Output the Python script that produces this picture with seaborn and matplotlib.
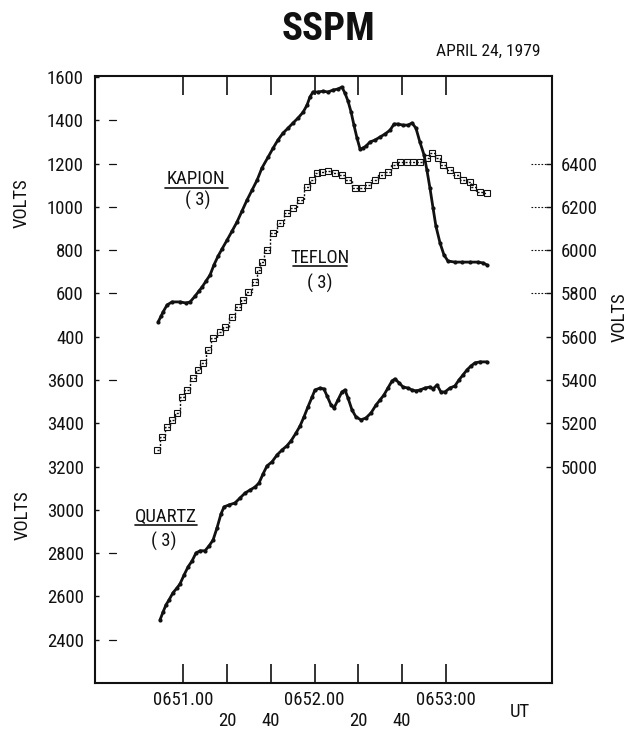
import matplotlib
matplotlib.use("Agg")
import matplotlib.pyplot as plt
from matplotlib import font_manager
from matplotlib.lines import Line2D
import seaborn as sns

# time in seconds after 06:51:00 UT, voltages
kapion_t = [-11.4, -10.0, -9.1, -7.3, -5.0, -1.4, 1.4, 3.2, 5.5, 7.3, 8.7, 10.5, 12.3, 14.1, 16.0,
            17.8, 20.1, 22.4, 24.6, 26.9, 29.2, 31.5, 33.8, 36.0, 38.8, 41.1, 43.3, 45.6, 47.9, 50.2,
            52.5, 54.8, 56.6, 57.9, 59.3, 61.6, 63.9, 66.2, 68.4, 70.7, 72.5, 73.9, 75.3, 76.7, 78.0,
            79.4, 80.8, 82.1, 83.5, 85.3, 87.6, 89.9, 92.2, 94.5, 96.3, 98.1, 100.4, 102.7, 104.5,
            106.3, 108.1, 110.0, 111.3, 112.7, 114.1, 115.4, 117.3, 119.1, 120.9, 124.1, 127.3,
            131.0, 134.6, 136.9, 138.7]
kapion_v = [468, 496, 515, 547, 561, 561, 556, 561, 588, 612, 630, 658, 685, 732, 773,
            806, 847, 889, 930, 981, 1032, 1078, 1124, 1180, 1230, 1272, 1309, 1341, 1364, 1388,
            1411, 1438, 1471, 1508, 1531, 1531, 1535, 1531, 1540, 1545, 1554, 1526, 1489, 1438, 1378,
            1318, 1267, 1272, 1281, 1300, 1309, 1323, 1337, 1355, 1383, 1383, 1378, 1378, 1388,
            1364, 1300, 1240, 1170, 1087, 995, 912, 833, 778, 750, 745, 745,
            745, 745, 741, 732]

teflon_t = [-11.9, -9.6, -7.3, -5.0, -2.7, -0.5, 1.8, 4.6, 6.8, 9.1, 11.4, 13.7, 16.9, 19.2, 22.4,
            25.1, 27.4, 29.7, 32.9, 34.2, 36.0, 38.3, 41.1, 44.3, 47.5, 50.2, 53.4, 56.6, 58.9, 61.1,
            63.4, 66.2, 69.4, 72.5, 75.3, 78.5, 81.7, 84.4, 87.6, 90.8, 93.5, 96.7, 99.0, 102.2,
            104.9, 108.1, 111.3, 113.6, 116.4, 118.6, 121.8, 125.0, 127.8, 131.0, 132.3, 135.5, 138.7]
teflon_v = [5077, 5137, 5183, 5216, 5248, 5322, 5354, 5410, 5447, 5479, 5539, 5594, 5622, 5645, 5691,
            5738, 5770, 5807, 5853, 5909, 5945, 6001, 6079, 6126, 6172, 6195, 6232, 6292, 6324, 6357,
            6361, 6366, 6357, 6347, 6324, 6287, 6287, 6301, 6324, 6347, 6361, 6394, 6407, 6407,
            6407, 6407, 6426, 6449, 6426, 6394, 6370, 6347, 6324, 6315, 6292, 6269, 6264]

quartz_t = [-10.5, -9.1, -7.8, -6.4, -4.6, -2.7, -1.4, 0.5, 2.3, 4.1, 5.9, 7.8, 10.0, 11.9, 13.7,
            15.5, 17.3, 18.7, 21.0, 23.7, 26.0, 28.3, 30.6, 32.9, 34.7, 36.5, 38.3, 40.6, 42.9, 45.2,
            47.4, 49.3, 51.6, 53.4, 55.2, 57.0, 58.9, 60.2, 62.5, 64.3, 65.7, 67.5, 68.9, 70.7, 72.5,
            73.9, 75.3, 77.1, 78.9, 81.2, 83.5, 85.8, 88.1, 89.9, 91.7, 93.5, 95.4, 96.7, 98.6, 100.4,
            102.7, 104.5, 106.3, 108.1, 110.4, 112.7, 114.1, 115.9, 117.7, 119.5, 121.8, 124.1,
            125.9, 127.8, 129.6, 131.4, 133.2, 135.5, 138.7]
quartz_v = [2492, 2529, 2561, 2584, 2617, 2640, 2658, 2700, 2737, 2764, 2801, 2811, 2811, 2834, 2861,
            2917, 2981, 3014, 3023, 3032, 3055, 3078, 3092, 3106, 3125, 3166, 3203, 3222, 3254, 3277,
            3296, 3319, 3356, 3388, 3430, 3476, 3522, 3554, 3563, 3559, 3527, 3485, 3471, 3508, 3545,
            3554, 3517, 3462, 3430, 3416, 3425, 3448, 3485, 3508, 3531, 3563, 3596, 3605, 3587, 3568,
            3563, 3554, 3550, 3554, 3563, 3568, 3559, 3577, 3545, 3545, 3563, 3573,
            3600, 3624, 3647, 3665, 3679, 3684, 3684]

kapion_ticks = [400, 600, 800, 1000, 1200, 1400, 1600]
quartz_ticks = [2400, 2600, 2800, 3000, 3200, 3400, 3600]
teflon_ticks = [5000, 5200, 5400, 5600, 5800, 6000, 6200, 6400]
major_t = [0, 60, 120]
major_labels = ["0651.00", "0652.00", "0653:00"]
minor_t = [20, 40, 80, 100]
minor_labels = ["20", "40", "20", "40"]

sns.set_style("white")

# the original lettering is a narrow typeface; use a condensed face if one is installed
prefs = ["Liberation Sans Narrow", "Roboto Condensed", "Noto Sans", "DejaVu Sans", "Open Sans"]
narrow = [f for f in font_manager.fontManager.ttflist
          if f.stretch in ("condensed", "semi-condensed", "extra-condensed")
          or "Narrow" in f.name or "Condensed" in f.name]
pick = None
for p in prefs:
    for f in narrow:
        if f.name.startswith(p):
            pick = f
            break
    if pick:
        break
if pick is None and narrow:
    pick = narrow[0]
if pick is not None:
    plt.rcParams["font.family"] = [pick.name, "DejaVu Sans"]
    if pick.stretch in ("condensed", "semi-condensed", "extra-condensed"):
        plt.rcParams["font.stretch"] = pick.stretch
    fs = 13.5
    fs_title = 28
else:
    plt.rcParams["font.family"] = ["DejaVu Sans"]
    fs = 11
    fs_title = 24

W, H = 634, 737
fig = plt.figure(figsize=(W / 100, H / 100), dpi=100)

def fx(x):
    return x / W

def fy(y):
    return 1 - y / H

ax_k = fig.add_axes([fx(95), fy(683), (552 - 95) / W, (683 - 76) / H])
ax_q = ax_k.twinx()
ax_t = ax_k.twinx()

ink = "#111111"

sns.lineplot(x=kapion_t, y=kapion_v, ax=ax_k, color=ink, lw=2.0, marker="o", markersize=3,
             markeredgewidth=0)
sns.lineplot(x=quartz_t, y=quartz_v, ax=ax_q, color=ink, lw=2.0, marker="o", markersize=3,
             markeredgewidth=0)
sns.lineplot(x=teflon_t, y=teflon_v, ax=ax_t, color=ink, lw=1.0, ls=(0, (1.5, 1.2)),
             marker="s", markersize=4.5, markerfacecolor="none", markeredgecolor=ink,
             markeredgewidth=0.8, drawstyle="steps-mid")

ax_k.set_xlim(-40.2, 168.4)
ax_k.set_ylim(-1200, 1605)
ax_q.set_ylim(2200, 5005)
ax_t.set_ylim(4000, 6805)

# x ticks
ax_k.set_xticks(major_t, labels=major_labels)
ax_k.set_xticks(minor_t, labels=minor_labels, minor=True)
ax_k.tick_params(axis="x", which="both", direction="in", length=14, width=1.2,
                 top=True, bottom=True, labelsize=fs, colors=ink)
ax_k.tick_params(axis="x", which="major", pad=6)
ax_k.tick_params(axis="x", which="minor", pad=21)

# left scales
ax_k.set_yticks(kapion_ticks)
ax_q.set_yticks(quartz_ticks)
ax_q.yaxis.tick_left()
for a in (ax_k, ax_q):
    a.tick_params(axis="y", which="both", left=True, right=False, direction="in",
                  length=3, width=1, pad=8, labelsize=fs, colors=ink)
ax_t.set_yticks(teflon_ticks)
ax_t.tick_params(axis="y", right=True, left=False, direction="in", length=4, width=1,
                 pad=6, labelsize=fs, colors=ink)

for a in (ax_k, ax_q, ax_t):
    a.set_xlabel("")
    a.set_ylabel("")
for s in ax_k.spines.values():
    s.set_linewidth(1.5)
    s.set_color(ink)
for a in (ax_q, ax_t):
    for s in a.spines.values():
        s.set_visible(False)

# small marks inside the frame
for v in [5800, 6000, 6200, 6400]:
    ax_t.axhline(v, xmin=0.955, xmax=1.0, ls=(0, (1.5, 1.5)), lw=0.8, color=ink)
for v in [600, 800, 1000, 1200, 1400]:
    ax_k.axhline(v, xmin=0.03, xmax=0.045, lw=0.9, color=ink)
for v in [2400, 2800, 3600]:
    ax_q.axhline(v, xmin=0.03, xmax=0.045, lw=0.9, color=ink)

# titles and labels
fig.text(fx(328), fy(29), "SSPM", ha="center", va="center", fontsize=fs_title, fontweight="bold", color=ink)
fig.text(fx(488), fy(51), "APRIL 24, 1979", ha="center", va="center", fontsize=fs - 1, color=ink)
fig.text(fx(22), fy(203), "VOLTS", ha="center", va="center", rotation=90, fontsize=fs, color=ink)
fig.text(fx(23), fy(515), "VOLTS", ha="center", va="center", rotation=90, fontsize=fs, color=ink)
fig.text(fx(620), fy(317), "VOLTS", ha="center", va="center", rotation=90, fontsize=fs, color=ink)
fig.text(fx(520), fy(712), "UT", ha="center", va="center", fontsize=fs, color=ink)

labels = [("KAPION", 196, 179, 165, 228, 188, 198, 200),
          ("TEFLON", 320, 258, 293, 347, 266, 320, 283),
          ("QUARTZ", 166, 517, 135, 197, 525, 164, 541)]
for name, x, y, u0, u1, uy, x2, y2 in labels:
    fig.text(fx(x), fy(y), name, ha="center", va="center", fontsize=fs, color=ink)
    fig.add_artist(Line2D([fx(u0), fx(u1)], [fy(uy), fy(uy)], lw=1.2, color=ink))
    fig.text(fx(x2), fy(y2), "( 3)", ha="center", va="center", fontsize=fs, color=ink)

fig.savefig("out.png", dpi=100, facecolor="white")
